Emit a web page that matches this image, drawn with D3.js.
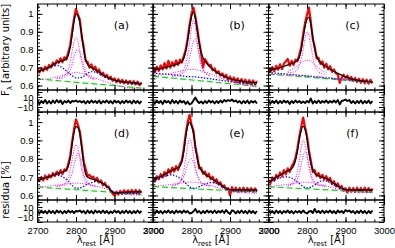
<!DOCTYPE html>
<html>
<head>
<meta charset="utf-8">
<script src="https://cdn.jsdelivr.net/npm/d3@7.9.0/dist/d3.min.js"></script>
<style>
  body { margin: 0; background: #fff; }
  svg text { font-family: "DejaVu Sans", sans-serif; fill: #000; }
  .ax text { font-family: "Liberation Sans", sans-serif; font-size: 9.5px; }
</style>
</head>
<body>
<svg id="chart" width="395" height="248"></svg>
<script>
// wavelength grids (Angstrom)
const lam5 = d3.range(2700, 2971, 5);
const lam10 = d3.range(2700, 2971, 10);
const lamN = d3.range(2750, 2851, 5);
const lamC = [2700, 2970];

const labels = ["(a)", "(b)", "(c)", "(d)", "(e)", "(f)"];

// observed spectra (red), 5 A steps
const obsA = [.690,.672,.698,.680,.705,.688,.715,.700,.728,.712,.740,
  .726,.752,.730,.758,.745,.785,.825,.905,.975,1.028,.995,
  .968,.872,.815,.738,.732,.700,.718,.688,.705,.676,.690,
  .660,.672,.648,.660,.636,.650,.626,.640,.618,.636,.615,
  .632,.612,.628,.610,.626,.608,.624,.606,.622,.602,.618];
const obsB = [.700,.675,.705,.682,.712,.690,.725,.695,.738,.700,.730,
  .708,.740,.715,.745,.728,.765,.800,.862,.940,1.000,1.035,
  .985,.920,.845,.780,.700,.748,.730,.712,.715,.685,.695,
  .668,.680,.655,.668,.645,.660,.632,.650,.625,.645,.620,
  .640,.615,.636,.612,.633,.610,.630,.606,.628,.605,.625];
const obsC = [.698,.676,.702,.680,.710,.688,.718,.692,.722,.735,.748,
  .710,.738,.715,.745,.735,.772,.815,.885,.950,.995,1.035,
  .955,.860,.818,.752,.755,.720,.735,.700,.722,.690,.708,
  .676,.690,.668,.662,.615,.640,.660,.642,.655,.632,.648,
  .625,.642,.620,.638,.615,.635,.612,.633,.610,.632,.612];
const obsD = [.695,.678,.700,.682,.708,.688,.712,.698,.722,.705,.730,
  .712,.738,.716,.742,.735,.772,.815,.895,.962,1.015,.985,
  .948,.870,.785,.745,.705,.712,.698,.702,.680,.695,.670,
  .682,.655,.668,.645,.648,.622,.610,.598,.620,.605,.625,
  .608,.628,.610,.628,.612,.630,.611,.630,.612,.628,.614];
const obsE = [.698,.676,.705,.688,.716,.698,.728,.708,.742,.722,.752,
  .730,.760,.738,.772,.790,.855,.935,.998,1.040,.985,.955,
  .860,.815,.748,.752,.718,.730,.702,.718,.688,.702,.672,
  .688,.660,.672,.645,.655,.632,.640,.600,.645,.622,.642,
  .620,.640,.622,.642,.620,.640,.622,.640,.620,.638,.622];
const obsF = [.685,.665,.698,.680,.712,.695,.725,.705,.738,.715,.748,
  .728,.758,.775,.805,.855,.920,.975,1.025,.970,.925,.845,
  .790,.728,.738,.705,.722,.695,.712,.688,.705,.680,.695,
  .662,.678,.650,.665,.638,.652,.625,.640,.615,.642,.620,
  .640,.618,.642,.620,.640,.618,.642,.620,.640,.618,.638];

// total fits (black), 5 A steps
const fitA = [.678,.681,.685,.689,.693,.697,.702,.708,.715,.722,.728,
  .732,.735,.738,.742,.750,.770,.815,.885,.960,.998,.990,
  .950,.880,.800,.745,.718,.706,.700,.695,.688,.681,.674,
  .667,.660,.654,.648,.643,.638,.634,.630,.627,.625,.623,
  .622,.620,.619,.618,.617,.616,.615,.614,.612,.611,.610];
const fitB = [.686,.688,.690,.692,.694,.696,.699,.702,.705,.708,.711,
  .714,.718,.722,.727,.735,.752,.790,.850,.925,.985,1.010,
  .975,.905,.835,.785,.755,.736,.722,.710,.699,.690,.682,
  .675,.668,.662,.656,.651,.646,.642,.638,.635,.632,.630,
  .628,.626,.624,.622,.621,.620,.619,.618,.617,.616,.615];
const fitC = [.685,.687,.689,.691,.694,.697,.700,.703,.707,.711,.715,
  .719,.722,.727,.733,.742,.758,.800,.868,.930,.970,.982,
  .940,.870,.805,.765,.740,.728,.718,.711,.705,.698,.691,
  .684,.678,.673,.668,.663,.658,.653,.648,.644,.640,.637,
  .634,.632,.630,.628,.626,.625,.624,.623,.622,.621,.620];
const fitD = [.684,.686,.689,.692,.695,.698,.701,.705,.710,.714,.718,
  .721,.724,.727,.732,.740,.760,.805,.880,.945,.975,.970,
  .935,.860,.775,.718,.700,.694,.690,.688,.685,.681,.676,
  .670,.664,.658,.650,.640,.628,.618,.612,.612,.614,.615,
  .616,.617,.617,.618,.618,.619,.619,.620,.620,.620,.620];
const fitE = [.684,.689,.694,.699,.704,.709,.715,.721,.727,.733,.738,
  .742,.746,.751,.760,.785,.840,.920,.980,.998,.980,.940,
  .870,.800,.758,.738,.725,.716,.709,.702,.695,.688,.681,
  .675,.668,.661,.653,.645,.639,.635,.632,.631,.630,.630,
  .630,.630,.630,.630,.630,.630,.630,.630,.630,.630,.630];
const fitF = [.672,.678,.685,.692,.699,.705,.711,.717,.723,.729,.734,
  .739,.745,.760,.790,.840,.905,.955,.978,.960,.910,.835,
  .775,.740,.722,.713,.707,.702,.698,.695,.692,.687,.680,
  .672,.665,.659,.652,.645,.639,.634,.631,.630,.630,.630,
  .630,.630,.630,.630,.630,.630,.630,.630,.630,.630,.630];

// residuals in percent, 5 A steps
const resA = [3,-4,2,-2,4,-3,2,-3,3,-2,4, -1,3,-4,2,-1,3,-2,2,1,3,0,
  2,-1,2,-3,2,-2,3,-1,2,-2,3, -3,2,-1,3,-2,2,-3,3,-1,2,-3,
  2,-2,3,-1,2,-3,3,-2,2,-3,2];
const resB = [2,-3,3,-2,2,-4,3,-1,2,-3,4, -2,2,-3,3,-1,2,-4,1,-5,-3,3,
  9,2,-2,1,-3,2,-2,3,-1,2,-3, 2,-2,3,-1,4,1,4,2,5,1,3,
  -1,2,-3,2,-2,3,-3,2,-1,2,-3];
const resC = [3,-3,2,-2,3,-3,2,-2,3,-1,2, -4,2,-2,3,-1,2,-2,1,-2,2,-1,
  7,-3,2,-2,3,-2,2,-1,3,-2,2, -1,3,-1,4,-5,2,3,5,2,4,-2,
  2,-3,2,-2,3,-3,2,-2,3,-3,2];
const resD = [2,-3,3,-2,2,-3,3,-2,2,-3,3, -1,2,-3,2,-2,3,-1,2,-2,2,1,
  3,-1,2,-3,3,-2,2,-3,3,-1,2, -2,3,-2,2,-3,1,-2,3,-1,2,-3,
  2,-2,3,-2,2,-3,2,-2,3,-2,2];
const resE = [2,-3,3,-2,2,-3,2,-1,3,-2,2, -3,3,-1,2,-2,3,-1,2,-3,-2,1,
  6,-1,2,-3,2,-2,3,-1,2,-2,3, -2,2,-1,3,-2,4,-1,-4,3,2,-3,
  2,-2,3,-2,2,-3,3,-2,2,-3,2];
const resF = [3,-2,2,-3,3,-2,2,-3,2,-1,3, -2,2,-3,2,-1,2,-2,3,-1,-3,1,
  2,-2,6,-1,2,-2,3,-2,2,-1,3, -2,2,-3,3,-1,2,-2,4,1,3,-1,
  2,-3,2,-2,3,-2,2,-3,2,-2,3];

// narrow line components (magenta), 2750-2850 in 5 A steps
const nar1A = [.642,.643,.645,.648,.655,.668,.690,.730,.790,.845,.867,.845,.790,.730,.690,.665,.652,.645,.641,.638,.636];
const nar2A = [.638,.639,.640,.642,.646,.654,.667,.688,.720,.760,.790,.800,.785,.750,.710,.680,.660,.648,.641,.637,.634];
const nar1B = [.655,.656,.658,.661,.666,.675,.692,.722,.770,.840,.920,.965,.925,.845,.770,.720,.690,.673,.664,.659,.656];
const nar2B = [.652,.653,.654,.656,.659,.664,.672,.688,.715,.755,.805,.845,.858,.830,.775,.725,.690,.670,.660,.655,.652];
const nar1C = [.672,.672,.673,.675,.680,.690,.710,.745,.800,.865,.900,.880,.825,.760,.715,.690,.677,.670,.666,.664,.662];
const nar2C = [.680,.684,.689,.695,.702,.710,.719,.727,.734,.739,.741,.740,.735,.727,.718,.708,.698,.690,.683,.677,.672];
const nar1D = [.652,.653,.655,.658,.664,.676,.698,.738,.795,.850,.875,.855,.800,.740,.700,.676,.664,.658,.654,.652,.650];
const nar2D = [.650,.650,.651,.653,.656,.662,.673,.692,.722,.765,.808,.830,.815,.770,.720,.688,.670,.660,.655,.652,.650];
const nar1E = [.655,.657,.660,.665,.675,.695,.735,.800,.870,.910,.885,.820,.755,.710,.685,.671,.663,.658,.655,.653,.651];
const nar2E = [.652,.654,.657,.662,.670,.684,.705,.735,.770,.795,.800,.780,.745,.710,.685,.670,.661,.656,.653,.651,.650];
const nar1F = [.655,.658,.663,.672,.692,.730,.790,.860,.902,.880,.815,.750,.705,.680,.668,.661,.657,.655,.653,.652,.651];
const nar2F = [.652,.654,.657,.662,.672,.690,.720,.765,.815,.840,.820,.770,.720,.688,.670,.660,.655,.652,.650,.649,.648];

// broad component (magenta), 10 A steps
const broadA = [.632,.634,.636,.639,.643,.648,.654,.660,.666,.670,.672,.670,.665,.658,.650,.642,.634,.626,.618,.611,.604,.598,.593,.589,.585,.582,.580,.578];
const broadB = [.655,.657,.659,.662,.666,.670,.675,.680,.685,.689,.690,.689,.685,.679,.672,.664,.655,.646,.638,.630,.623,.617,.611,.606,.602,.598,.595,.592];
const broadC = [.664,.663,.662,.661,.660,.659,.658,.657,.656,.655,.654,.653,.651,.649,.647,.645,.643,.641,.638,.636,.633,.630,.627,.624,.621,.618,.616,.614];
const broadD = [.646,.647,.649,.651,.653,.656,.659,.662,.664,.666,.667,.666,.664,.661,.657,.652,.646,.640,.634,.627,.621,.616,.612,.608,.605,.603,.601,.600];
const broadE = [.650,.651,.653,.655,.658,.661,.664,.667,.670,.672,.673,.672,.669,.665,.660,.654,.648,.642,.636,.630,.625,.621,.618,.616,.614,.613,.612,.611];
const broadF = [.648,.650,.652,.655,.658,.661,.664,.667,.670,.672,.672,.670,.667,.663,.658,.652,.646,.640,.634,.629,.625,.622,.620,.619,.618,.617,.616,.615];

// Fe II + continuum (blue), 10 A steps
const feA = [.678,.685,.693,.700,.708,.712,.705,.690,.672,.655,.643,.642,.652,.668,.677,.675,.665,.652,.642,.635,.628,.623,.619,.616,.613,.611,.609,.607];
const feB = [.668,.667,.665,.664,.662,.660,.658,.655,.652,.650,.649,.648,.646,.643,.640,.637,.634,.631,.628,.625,.622,.619,.617,.614,.612,.610,.608,.606];
const feC = [.673,.671,.669,.667,.665,.663,.661,.659,.657,.655,.653,.651,.649,.647,.645,.643,.641,.639,.637,.635,.633,.631,.629,.627,.625,.623,.621,.619];
const feD = [.684,.690,.697,.704,.709,.711,.707,.695,.678,.655,.640,.640,.650,.662,.670,.675,.674,.665,.650,.632,.618,.612,.610,.610,.610,.610,.610,.610];
const feE = [.680,.688,.697,.705,.711,.712,.706,.694,.676,.656,.641,.640,.648,.658,.666,.670,.668,.660,.648,.636,.628,.626,.625,.625,.624,.624,.623,.623];
const feF = [.672,.680,.688,.695,.700,.701,.695,.682,.665,.648,.641,.645,.658,.672,.680,.679,.670,.657,.645,.636,.631,.630,.629,.629,.628,.628,.628,.627];

// power-law continuum (green), ends at 2700 and 2970
const contA = [.637, .586];
const contB = [.652, .596];
const contC = [.664, .617];
const contD = [.646, .606];
const contE = [.648, .618];
const contF = [.647, .617];

const panels = [
  { obs: obsA, fit: fitA, res: resA, n1: nar1A, n2: nar2A, br: broadA, fe: feA, cont: contA },
  { obs: obsB, fit: fitB, res: resB, n1: nar1B, n2: nar2B, br: broadB, fe: feB, cont: contB },
  { obs: obsC, fit: fitC, res: resC, n1: nar1C, n2: nar2C, br: broadC, fe: feC, cont: contC },
  { obs: obsD, fit: fitD, res: resD, n1: nar1D, n2: nar2D, br: broadD, fe: feD, cont: contD },
  { obs: obsE, fit: fitE, res: resE, n1: nar1E, n2: nar2E, br: broadE, fe: feE, cont: contE },
  { obs: obsF, fit: fitF, res: resF, n1: nar1F, n2: nar2F, br: broadF, fe: feF, cont: contF },
];

const xMajor = [2700, 2800, 2900, 3000];
const xMinor = d3.range(2725, 3000, 25);
const yMajor = [0.6, 0.7, 0.8, 0.9, 1.0];
const yMinor = d3.range(29, 53).map(k => k / 50);
const rMajor = [-20, -10, 0, 10, 20];
const rMinor = d3.range(-20, 25, 5);

const svg = d3.select("#chart");
const left = 37.5, colW = 115.5;
const rows = [{ top: 4, mid: 90, bot: 112 }, { top: 112, mid: 200, bot: 222 }];

function drawBox(g, x, y, yMaj, yMin, yFmt, xFmt) {
  const [x0, x1] = x.range(), [yb, yt] = y.range();
  const add = (axis, tx, ty) => g.append("g").attr("class", "ax")
    .attr("transform", `translate(${tx},${ty})`).call(axis)
    .call(s => s.select(".domain").remove());
  add(d3.axisLeft(y).tickValues(yMin).tickSize(-2.5).tickFormat(""), x0, 0);
  add(d3.axisLeft(y).tickValues(yMaj).tickSize(-5).tickPadding(4).tickFormat(yFmt || (() => "")), x0, 0);
  add(d3.axisRight(y).tickValues(yMin).tickSize(-2.5).tickFormat(""), x1, 0);
  add(d3.axisRight(y).tickValues(yMaj).tickSize(-5).tickFormat(""), x1, 0);
  add(d3.axisTop(x).tickValues(xMinor).tickSize(-2.5).tickFormat(""), 0, yt);
  add(d3.axisTop(x).tickValues(xMajor).tickSize(-5).tickFormat(""), 0, yt);
  add(d3.axisBottom(x).tickValues(xMinor).tickSize(-2.5).tickFormat(""), 0, yb);
  add(d3.axisBottom(x).tickValues(xMajor).tickSize(-5).tickPadding(5).tickFormat(xFmt || (() => "")), 0, yb);
  g.append("rect").attr("x", x0).attr("y", yt).attr("width", x1 - x0).attr("height", yb - yt)
    .attr("fill", "none").attr("stroke", "#000").attr("stroke-width", 1);
}

const defs = svg.append("defs");

panels.forEach((p, i) => {
  const col = i % 3, row = Math.floor(i / 3);
  const r = rows[row];
  const x = d3.scaleLinear().domain([2700, 3000]).range([left + col * colW, left + (col + 1) * colW]);
  const y = d3.scaleLinear().domain([0.575, 1.055]).range([r.mid, r.top]);
  const yr = d3.scaleLinear().domain([-20, 24]).range([r.bot, r.mid]);
  const g = svg.append("g");

  defs.append("clipPath").attr("id", "cm" + i).append("rect")
    .attr("x", x.range()[0]).attr("y", r.top).attr("width", colW).attr("height", r.mid - r.top);
  defs.append("clipPath").attr("id", "cr" + i).append("rect")
    .attr("x", x.range()[0]).attr("y", r.mid).attr("width", colW).attr("height", r.bot - r.mid);

  const line = (xs, curve) => d3.line().x((d, k) => x(xs[k])).y(d => y(d)).curve(curve || d3.curveLinear);
  const m = g.append("g").attr("clip-path", `url(#cm${i})`).attr("fill", "none");

  m.append("path").attr("d", line(lam5)(p.obs)).attr("stroke", "#ff0000").attr("stroke-width", 2.2)
    .attr("stroke-linejoin", "round");
  m.append("path").attr("d", line(lamC)(p.cont)).attr("stroke", "#00e000").attr("stroke-width", 1.2)
    .attr("stroke-dasharray", "6,3");
  m.append("path").attr("d", line(lam10, d3.curveMonotoneX)(p.fe)).attr("stroke", "#0000ff").attr("stroke-width", 1.2)
    .attr("stroke-dasharray", "1.5,1.5");
  [[lam10, p.br], [lamN, p.n1], [lamN, p.n2]].forEach(([xs, ys]) => {
    m.append("path").attr("d", line(xs, d3.curveMonotoneX)(ys)).attr("stroke", "#ff00ff").attr("stroke-width", 1)
      .attr("stroke-dasharray", "1,1.5");
  });
  m.append("path").attr("d", line(lam5, d3.curveMonotoneX)(p.fit)).attr("stroke", "#000").attr("stroke-width", 1.3);

  g.append("g").attr("clip-path", `url(#cr${i})`).append("path")
    .attr("d", d3.line().x((d, k) => x(lam5[k])).y(d => yr(d))(p.res))
    .attr("fill", "none").attr("stroke", "#000").attr("stroke-width", 1.9).attr("stroke-linejoin", "round");

  const yFmt = col === 0 ? (d => String(+d.toFixed(1))) : null;
  const rFmt = col === 0 ? (d => Math.abs(d) === 20 ? "" : d3.format("d")(d)) : null;
  const xFmt = row === 1 ? d3.format("d") : null;
  drawBox(g, x, y, yMajor, yMinor, yFmt, null);
  drawBox(g, x, yr, rMajor, rMinor, rFmt, xFmt);

  g.append("text").attr("x", x.range()[0] + 84).attr("y", r.top + 25)
    .attr("text-anchor", "middle").attr("font-size", 11).text(labels[i]);

  if (row === 1) {
    const t = g.append("text").attr("x", (x.range()[0] + x.range()[1]) / 2).attr("y", 243)
      .attr("text-anchor", "middle").attr("font-size", 10);
    t.append("tspan").text("λ");
    t.append("tspan").attr("font-size", 7).attr("dy", 2.5).text("rest");
    t.append("tspan").attr("dy", -2.5).text(" [Å]");
  }
});

const fy = svg.append("text").attr("transform", "translate(9,50) rotate(-90)")
  .attr("text-anchor", "middle").attr("font-size", 10);
fy.append("tspan").text("F");
fy.append("tspan").attr("font-size", 7).attr("dy", 2.5).text("λ");
fy.append("tspan").attr("dy", -2.5).text(" [arbitrary units]");

svg.append("text").attr("transform", "translate(9,190) rotate(-90)")
  .attr("text-anchor", "middle").attr("font-size", 10).text("residua [%]");
</script>
</body>
</html>
